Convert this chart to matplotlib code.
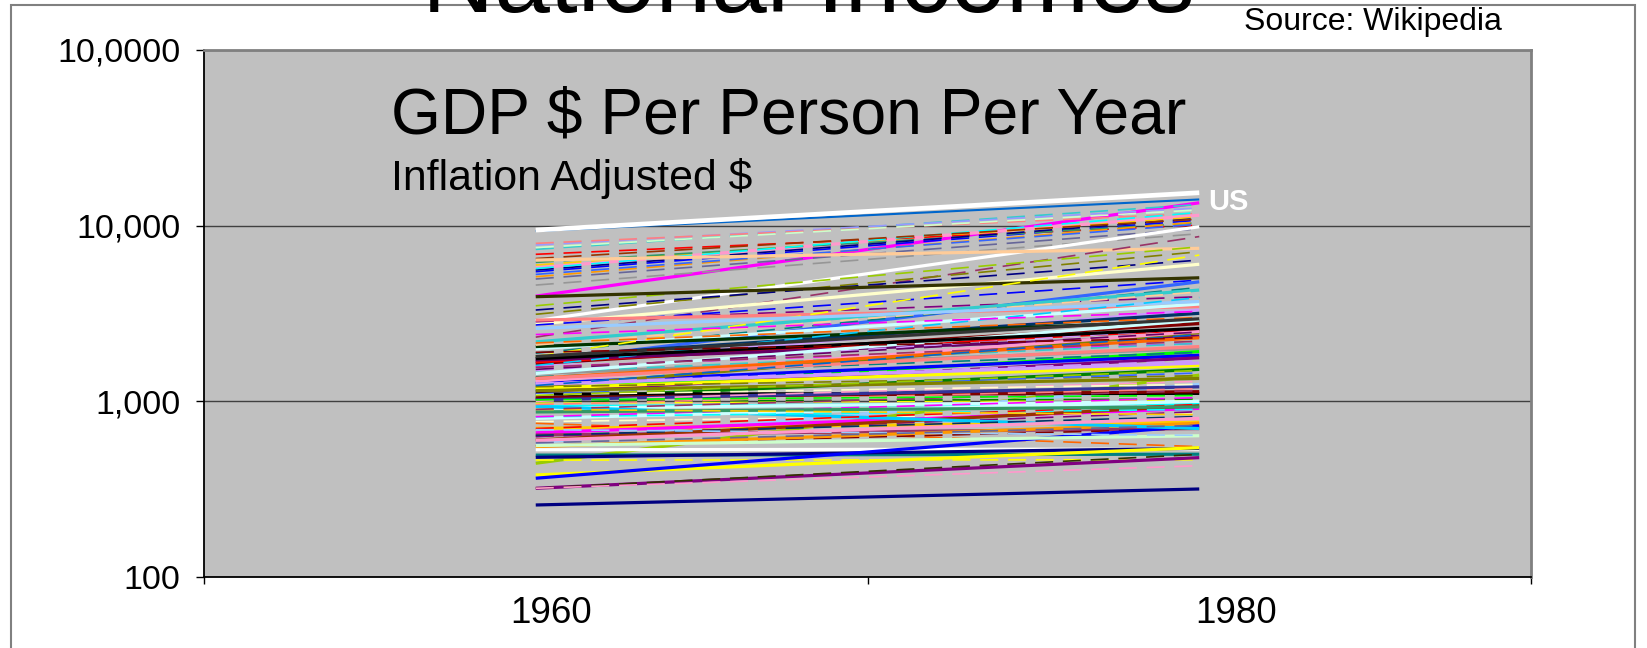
import numpy as np
import matplotlib
matplotlib.use("Agg")
import matplotlib.pyplot as plt
from matplotlib.patches import Rectangle
from matplotlib.ticker import FixedLocator, NullFormatter

plt.rcParams["font.family"] = ["Liberation Sans", "DejaVu Sans"]
plt.rcParams["lines.scale_dashes"] = False

years = ["1960", "1980"]

# GDP per person (inflation adjusted $), one entry per country; first one is the US
gdp_1960 = [
    9440, 9320, 3970, 7330, 7760, 7930, 5760, 5970, 5470, 6870,
    6180, 5590, 5120, 4970, 4590, 5700, 6500, 7500, 5280, 2880,
    6370, 2320, 3500, 3130, 3310, 2750, 3940, 2840, 2720, 2900,
    1680, 1880, 2180, 1990, 1610, 1790, 2050, 1640, 1680, 1720,
    2090, 1570, 1800, 1440, 1160, 1265, 1040, 444, 581, 1210,
    1135, 1100, 1050, 1020, 932, 912, 975, 1000, 1380, 766,
    750, 702, 662, 643, 629, 602, 560, 552, 530, 494,
    480, 463, 381, 365, 320, 320, 257, 935, 560, 320,
    2600, 1300, 1500, 1185, 1265, 1460, 1210, 1000, 1100, 1440,
    800, 817, 817, 700, 870, 640, 690, 960, 1090, 580,
    900, 1350, 2150, 1600, 1520, 900, 1750, 1800, 1560, 1350,
    1250, 1150, 1080, 1230, 2400, 1900, 1020, 600,
]
gdp_1980 = [
    15400, 14100, 13500, 13200, 12600, 11750, 11470, 11200, 10760, 10070,
    10400, 11000, 10500, 9600, 9000, 11900, 10900, 12300, 10200, 9860,
    7430, 8670, 7580, 7110, 6370, 6030, 5050, 3940, 4900, 3460,
    4790, 4450, 4300, 3580, 3310, 3170, 2880, 2770, 2570, 2350,
    4200, 2140, 6800, 2000, 1920, 1830, 1520, 1410, 1250, 2460,
    1770, 1110, 1135, 1210, 975, 1000, 1020, 1030, 1900, 860,
    552, 760, 912, 700, 873, 944, 700, 750, 535, 500,
    540, 465, 545, 726, 478, 499, 317, 700, 637, 430,
    3700, 2500, 2600, 1600, 1700, 2140, 1400, 1300, 1450, 2900,
    1000, 900, 1050, 960, 930, 820, 640, 1180, 1250, 730,
    840, 2300, 3000, 3900, 2480, 1150, 2600, 2950, 2200, 2050,
    1650, 1350, 1500, 2400, 3250, 2300, 1080, 800,
]

line_colors = [
    "#FFFFFF", "#0066CC", "#FF00FF", "#33CCCC", "#9999FF", "#FF8080", "#FF99CC", "#FFCC00", "#0000FF", "#FF0000",
    "#339966", "#000080", "#FF9900", "#666699", "#969696", "#00FFFF", "#993300", "#CCFFCC", "#3366FF", "#FFFFFF",
    "#FFCC99", "#993366", "#99CC00", "#808000", "#000080", "#FFFFCC", "#333300", "#800080", "#0000FF", "#FF8080",
    "#3366FF", "#008080", "#33CCCC", "#CCFFFF", "#CC99FF", "#003366", "#003300", "#800000", "#FF0000", "#660066",
    "#FFCC99", "#FF00FF", "#FFFF00", "#969696", "#00FF00", "#0000FF", "#008000", "#99CC00", "#99CCFF", "#808000",
    "#800080", "#000000", "#800000", "#333399", "#00FFFF", "#CCFFFF", "#FFFF00", "#008000", "#008080", "#FFFFCC",
    "#FF6600", "#FFCC00", "#FF00FF", "#993366", "#800080", "#993300", "#800000", "#FF9900", "#FFFFFF", "#008080",
    "#000080", "#FFFF00", "#FFFF00", "#0000FF", "#800080", "#333300", "#000080", "#00CCFF", "#CCFFCC", "#FF99CC",
    "#99CCFF", "#FF99CC", "#CC99FF", "#FFFF00", "#CC99FF", "#33CCCC", "#808000", "#FF99CC", "#3366FF", "#CCFFFF",
    "#CCFFFF", "#00FFFF", "#FF00FF", "#FF0000", "#339966", "#003366", "#99CCFF", "#FF8080", "#FFFFCC", "#666699",
    "#FFCC00", "#FF6600", "#FF6600", "#00CCFF", "#660066", "#993366", "#000000", "#333333", "#993366", "#FF8080",
    "#CC99FF", "#808000", "#99CC00", "#0066CC", "#FF00FF", "#800000", "#00FF00", "#FF99CC",
]
# U = US, S = heavy solid, s = light solid, d = dashed
line_styles = list(
    "UsSdddSddd" "dddddddddS" "SddddSSddS" "SdSSSSSSSS" "dddSSSSSSS"
    "SSSSSSdddd" "dSSSdSdSSS" "SdSSSdSSSd" "SSdSdddddS" "SdddSddddd"
    "dSddddSSdS" "SSdddddS"
)

fig = plt.figure(figsize=(16.47, 6.48), dpi=100)
ax = fig.add_axes([204 / 1647, 1 - 577 / 648, (1531 - 204) / 1647, (577 - 50) / 648])
ax.set_facecolor("#C0C0C0")
ax.set_yscale("log")
ax.set_ylim(100, 100000)
ax.set_xlim(-0.5, 1.5)

ax.yaxis.grid(True, which="major", color="#404040", lw=1.0)
ax.set_axisbelow(True)

x = np.arange(len(years))
for i in range(1, len(gdp_1960)):
    kw = dict(color=line_colors[i], solid_capstyle="butt", dash_capstyle="butt")
    vals = [gdp_1960[i], gdp_1980[i]]
    if line_styles[i] == "d":
        ax.plot(x, vals, lw=1.2, dashes=(13, 7), **kw)
    elif line_styles[i] == "S":
        ax.plot(x, vals, lw=2.3, **kw)
    else:
        ax.plot(x, vals, lw=1.5, **kw)
# US drawn on top of the rest
ax.plot(x, [gdp_1960[0], gdp_1980[0]], color=line_colors[0], lw=3.4, solid_capstyle="butt")
ax.text(1.014, gdp_1980[0] * 0.89, "US", color="white", fontsize=21, fontweight="bold",
        va="center", ha="left")

ax.set_yticks([100, 1000, 10000, 100000])
ax.set_yticklabels(["100", "1,000", "10,000", "10,0000"], fontsize=24.5)
ax.yaxis.set_minor_formatter(NullFormatter())
ax.yaxis.set_minor_locator(FixedLocator([]))
ax.tick_params(axis="y", which="major", direction="out", length=5.8, width=1, pad=11, color="black")

ax.set_xticks([0.023, 1.056])
ax.set_xticklabels(years, fontsize=26.5)
ax.tick_params(axis="x", which="major", length=0, pad=14)
ax.xaxis.set_minor_locator(FixedLocator([-0.5, 0.5, 1.5]))
ax.tick_params(axis="x", which="minor", direction="out", length=5, width=1, color="black")

for side in ("left", "bottom"):
    ax.spines[side].set_color("black")
    ax.spines[side].set_linewidth(1.3)
for side in ("top", "right"):
    ax.spines[side].set_color("#808080")
    ax.spines[side].set_linewidth(2.0)

fig.text(391 / 1647, 1 - 134 / 648, "GDP $ Per Person Per Year", fontsize=46.3,
         va="baseline", ha="left")
fig.text(391 / 1647, 1 - 190 / 648, "Inflation Adjusted $", fontsize=30.8,
         va="baseline", ha="left")

fig.text(808 / 1647, 1 - 12 / 648, "National Incomes", fontsize=72, ha="center", va="baseline")
fig.text(1502 / 1647, 1 - 22 / 648, "Source: Wikipedia", fontsize=23, ha="right", va="center")

fig.patches.append(Rectangle((11 / 1647, -0.1), (1635 - 11) / 1647, 1.1 - 5 / 648,
                             transform=fig.transFigure, fill=False, ec="#808080", lw=1.5))

fig.savefig("out.png", dpi=100)
